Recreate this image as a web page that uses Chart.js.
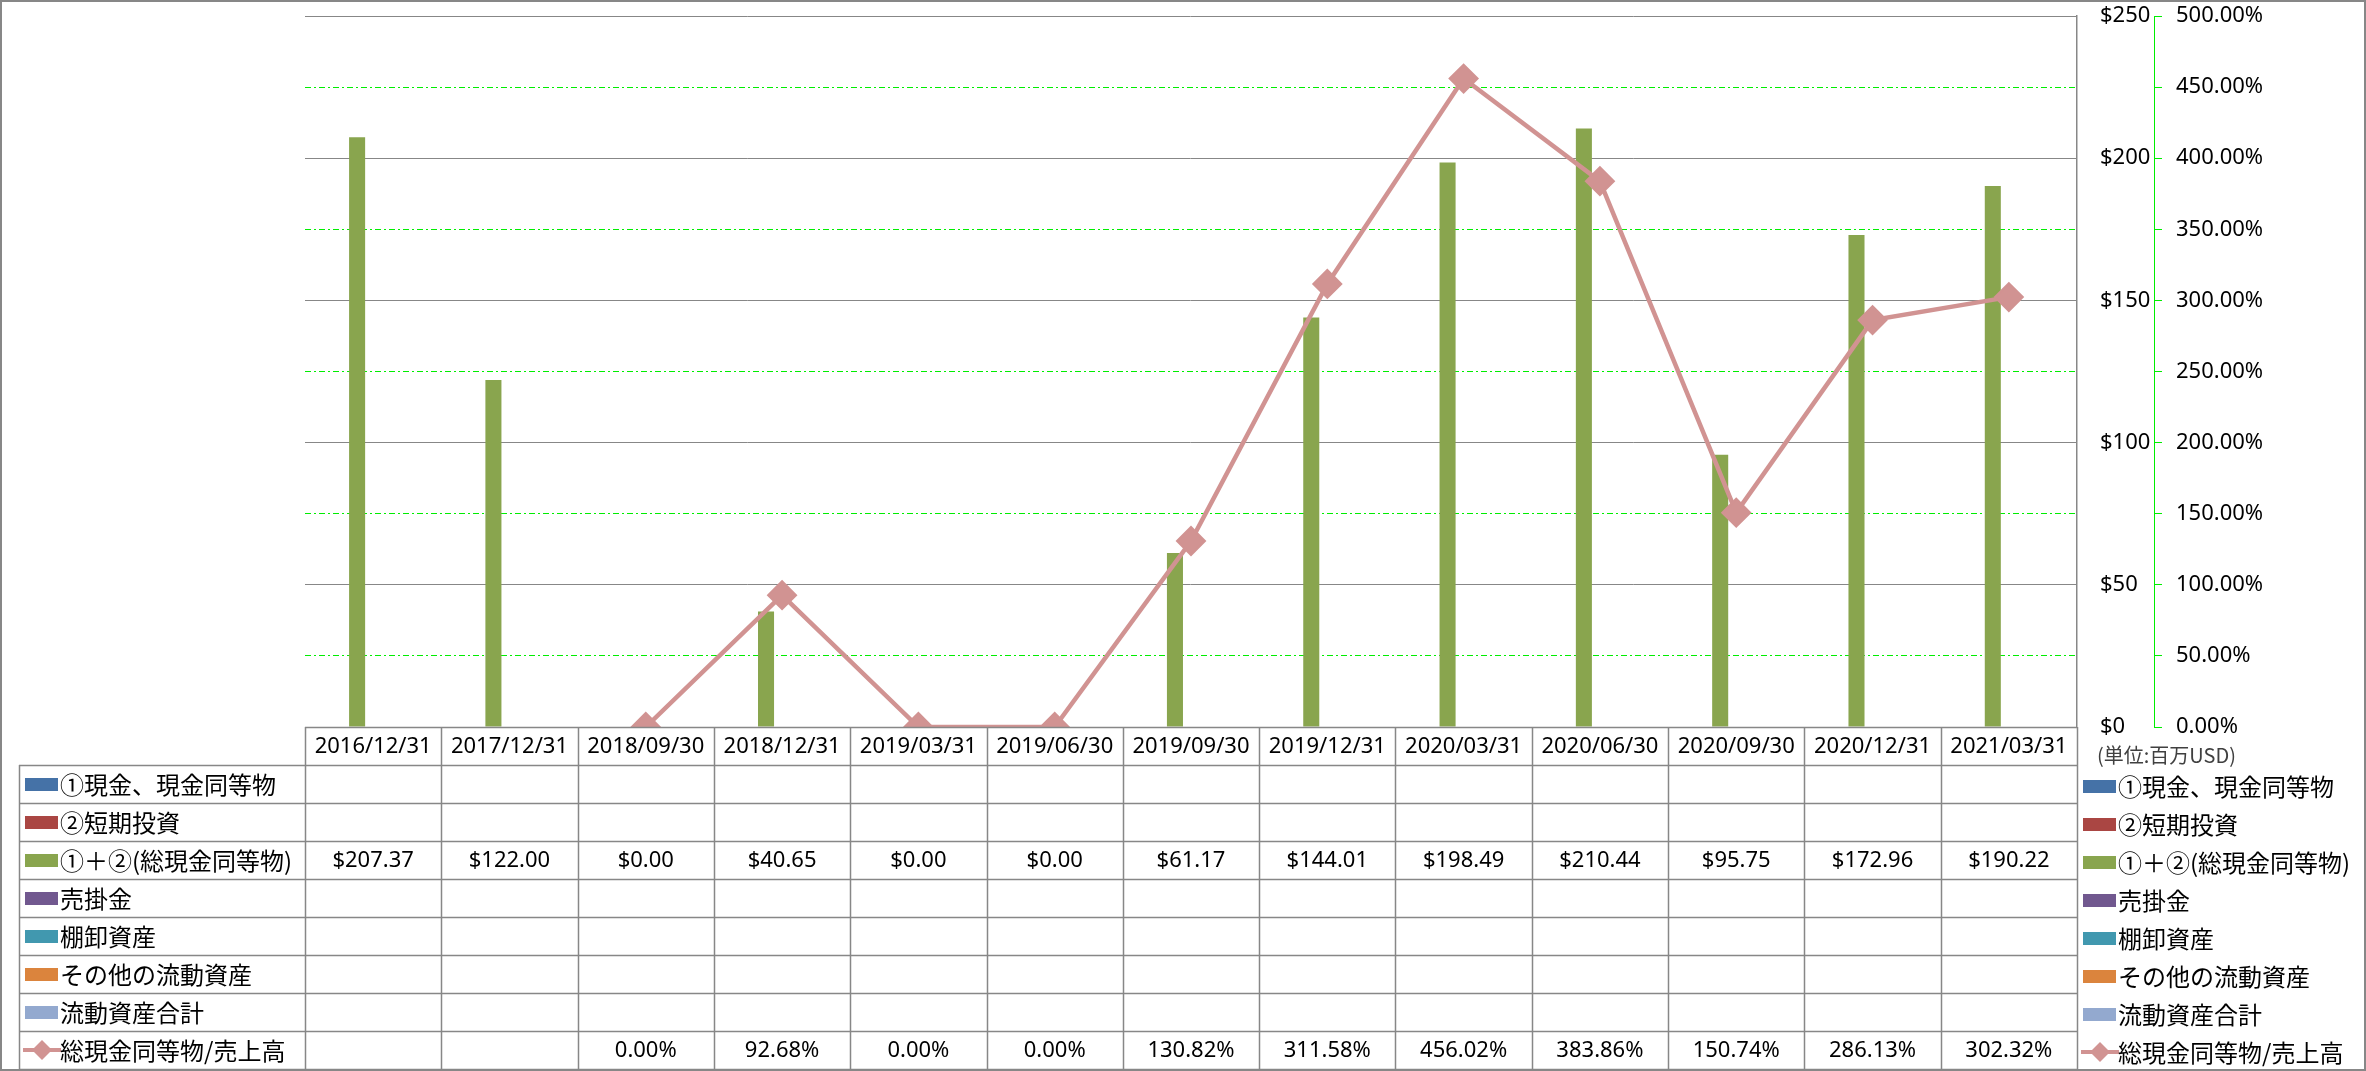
<!DOCTYPE html>
<html>
<head>
<meta charset="utf-8">
<script src="https://cdn.jsdelivr.net/npm/chart.js@4.4.0/dist/chart.umd.min.js"></script>
<style>
  html, body { margin: 0; padding: 0; background: #fff; }
</style>
</head>
<body>
<canvas id="cashChart" width="2366" height="1071"></canvas>
<script>
// --- data ---
const categories = [
  "2016/12/31", "2017/12/31", "2018/09/30", "2018/12/31", "2019/03/31",
  "2019/06/30", "2019/09/30", "2019/12/31", "2020/03/31", "2020/06/30",
  "2020/09/30", "2020/12/31", "2021/03/31"
];
const seriesNames = [
  "①現金、現金同等物", "②短期投資", "①＋②(総現金同等物)", "売掛金",
  "棚卸資産", "その他の流動資産", "流動資産合計", "総現金同等物/売上高"
];
const seriesColors = [
  "#4572A7", "#AA4643", "#89A54E", "#71588F",
  "#4198AF", "#DB843D", "#93A9CF", "#D19392"
];
// ①+② total cash equivalents (million USD)
const totalCash = [207.37, 122.00, 0, 40.65, 0, 0, 61.17, 144.01, 198.49, 210.44, 95.75, 172.96, 190.22];
// total cash / sales (%)
const cashToSales = [null, null, 0, 92.68, 0, 0, 130.82, 311.58, 456.02, 383.86, 150.74, 286.13, 302.32];
// series that are in the sheet but carry no values
const noData = [null, null, null, null, null, null, null, null, null, null, null, null, null];

const dollarTicks = { min: 0, max: 250, step: 50 };
const percentTicks = { min: 0, max: 500, step: 50 };

const LATIN = "'Noto Sans', 'Noto Sans CJK JP', sans-serif";
const CJK = "'Noto Sans CJK JP', sans-serif";
const GRID_GRAY = "#878787";
const GREEN_LINE = "#00EE00";

// --- data table + right legend drawn under the plot ---
const ROW_H = 38;
const TABLE_LEFT = 19;

function drawKey(ctx, i, x, y) {
  if (i === 7) {
    ctx.strokeStyle = seriesColors[i];
    ctx.lineWidth = 4;
    ctx.beginPath();
    ctx.moveTo(x - 2, y);
    ctx.lineTo(x + 36, y);
    ctx.stroke();
    ctx.fillStyle = seriesColors[i];
    ctx.beginPath();
    ctx.moveTo(x + 17, y - 10);
    ctx.lineTo(x + 27, y);
    ctx.lineTo(x + 17, y + 10);
    ctx.lineTo(x + 7, y);
    ctx.closePath();
    ctx.fill();
  } else {
    ctx.fillStyle = seriesColors[i];
    ctx.fillRect(x, y - 6, 33, 13);
  }
}

const dataTable = {
  id: "dataTable",
  beforeDraw(chart) {
    const ctx = chart.ctx;
    ctx.save();
    ctx.fillStyle = "#fff";
    ctx.fillRect(0, 0, chart.width, chart.height);
    ctx.restore();
  },
  afterDraw(chart) {
    const ctx = chart.ctx;
    const area = chart.chartArea;
    const n = categories.length;
    const colW = (area.right - area.left) / n;
    const top = Math.round(area.bottom);
    const bottom = top + ROW_H * 9;
    ctx.save();

    // grid of the table
    ctx.strokeStyle = GRID_GRAY;
    ctx.lineWidth = 1.5;
    ctx.beginPath();
    ctx.moveTo(area.left, top + 0.5);
    ctx.lineTo(area.right, top + 0.5);
    for (let r = 1; r <= 9; r++) {
      ctx.moveTo(TABLE_LEFT, top + r * ROW_H + 0.5);
      ctx.lineTo(area.right, top + r * ROW_H + 0.5);
    }
    for (let c = 0; c <= n; c++) {
      const x = Math.round(area.left + c * colW) + 0.5;
      ctx.moveTo(x, top);
      ctx.lineTo(x, bottom);
    }
    ctx.moveTo(TABLE_LEFT + 0.5, top + ROW_H);
    ctx.lineTo(TABLE_LEFT + 0.5, bottom);
    ctx.stroke();

    // header: dates
    ctx.fillStyle = "#000";
    ctx.textAlign = "center";
    ctx.textBaseline = "middle";
    ctx.font = "22px " + LATIN;
    categories.forEach((c, i) => {
      ctx.fillText(c, area.left + (i + 0.5) * colW, top + ROW_H / 2 + 1);
    });

    // rows: key + name, then values
    seriesNames.forEach((name, r) => {
      const cy = top + (r + 1.5) * ROW_H;
      drawKey(ctx, r, 25, cy);
      ctx.fillStyle = "#000";
      ctx.textAlign = "left";
      ctx.font = "24px " + CJK;
      ctx.fillText(name, 60, cy + 1);

      // right-side legend
      drawKey(ctx, r, 2083, cy + 2);
      ctx.fillStyle = "#000";
      ctx.fillText(name, 2118, cy + 3);

      ctx.textAlign = "center";
      ctx.font = "22px " + LATIN;
      for (let i = 0; i < n; i++) {
        let txt = "";
        if (r === 2 && totalCash[i] != null) txt = "$" + totalCash[i].toFixed(2);
        if (r === 7 && cashToSales[i] != null) txt = cashToSales[i].toFixed(2) + "%";
        if (txt) ctx.fillText(txt, area.left + (i + 0.5) * colW, cy + 1);
      }
    });

    // unit note
    ctx.textAlign = "left";
    ctx.fillStyle = "#404040";
    ctx.font = "20px " + CJK;
    ctx.fillText("(単位:百万USD)", 2097, top + 28);

    // outer frame
    ctx.strokeStyle = GRID_GRAY;
    ctx.lineWidth = 2;
    ctx.strokeRect(1, 1, chart.width - 2, chart.height - 2);
    ctx.restore();
  }
};

// --- datasets ---
const barData = [noData, noData, totalCash, noData, noData, noData, noData];
const datasets = barData.map((d, i) => ({
  type: "bar",
  label: seriesNames[i],
  data: d.slice(),
  backgroundColor: seriesColors[i],
  yAxisID: "y",
  order: 2,
  barPercentage: 1,
  categoryPercentage: 0.824
}));
datasets.push({
  type: "line",
  label: seriesNames[7],
  data: cashToSales,
  yAxisID: "y1",
  order: 1,
  borderColor: seriesColors[7],
  backgroundColor: seriesColors[7],
  borderWidth: 4.5,
  pointStyle: "rectRot",
  pointRadius: 14,
  pointBorderWidth: 2,
  pointBackgroundColor: seriesColors[7],
  pointBorderColor: seriesColors[7],
  tension: 0
});

// keep the right axes from pushing the plot down with label overhang
function fixAxis(width) {
  return (scale) => {
    scale.width = width;
    scale.paddingTop = 0;
    scale.paddingBottom = 0;
  };
}

new Chart(document.getElementById("cashChart"), {
  data: { labels: categories, datasets },
  options: {
    responsive: false,
    animation: false,
    devicePixelRatio: 1,
    layout: { padding: { left: 305, top: 15, right: 0, bottom: 0 } },
    plugins: {
      legend: { display: false },
      tooltip: { enabled: false }
    },
    scales: {
      x: {
        type: "category",
        grid: { display: false },
        border: { display: false },
        ticks: { display: false },
        afterFit(scale) { scale.height = 344; }
      },
      y: {
        position: "right",
        min: dollarTicks.min,
        max: dollarTicks.max,
        ticks: {
          stepSize: dollarTicks.step,
          padding: 23,
          color: "#000",
          font: { family: LATIN, size: 22 },
          callback: (v) => "$" + v
        },
        grid: { color: GRID_GRAY, lineWidth: 1, drawTicks: false },
        border: { color: GRID_GRAY, width: 1.5 },
        afterFit: fixAxis(77)
      },
      y1: {
        position: "right",
        min: percentTicks.min,
        max: percentTicks.max,
        ticks: {
          stepSize: percentTicks.step,
          padding: 14,
          color: "#000",
          font: { family: LATIN, size: 22 },
          callback: (v) => v.toFixed(2) + "%"
        },
        grid: {
          color: (c) => (c.tick && c.tick.value % 100 === 0 ? "rgba(0,0,0,0)" : GREEN_LINE),
          tickColor: GREEN_LINE,
          tickLength: 8,
          lineWidth: 1,
          borderDash: [6, 3]
        },
        border: { color: GREEN_LINE, width: 1, dash: [6, 3, 2, 3] },
        afterFit: fixAxis(212)
      }
    }
  },
  plugins: [dataTable]
});
</script>
</body>
</html>
